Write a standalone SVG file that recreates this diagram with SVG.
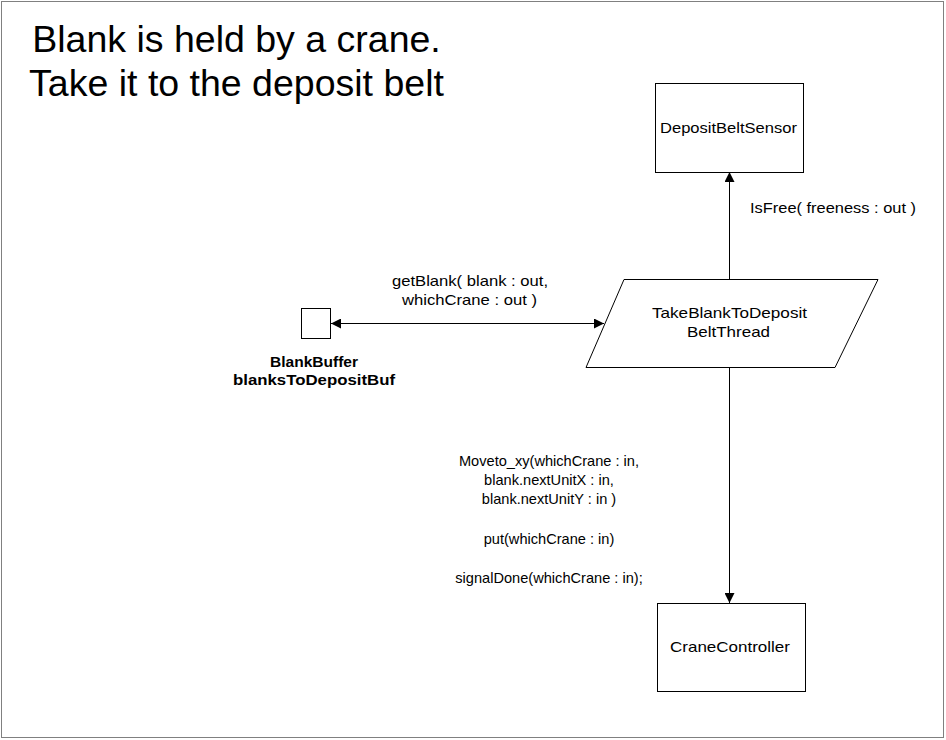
<svg xmlns="http://www.w3.org/2000/svg" width="946" height="740" viewBox="0 0 946 740">
<style>
text{font-family:"Liberation Sans",Arial,sans-serif;fill:#000}
.n{fill:#fff;stroke:#000;stroke-width:1}
.c{stroke:#000;stroke-width:1;fill:none}
.l{font-size:15px;text-anchor:middle}
.m{font-size:14.6px;text-anchor:middle}
.b{font-size:15px;text-anchor:middle;font-weight:bold}
</style>
<defs>
<marker id="a" viewBox="0 0 10 10" refX="10" refY="5" markerWidth="10" markerHeight="10" markerUnits="userSpaceOnUse" orient="auto-start-reverse">
<path d="M0,0 L10,5 L0,10 z" fill="#000"/>
</marker>
</defs>
<rect x="1.5" y="1.5" width="942" height="736" fill="#fff" stroke="#808080"/>
<text x="236.5" y="52" font-size="37.5" text-anchor="middle">Blank is held by a crane.</text>
<text x="236.5" y="96" font-size="37.5" text-anchor="middle">Take it to the deposit belt</text>
<g id="connectors">
<line class="c" x1="729.5" y1="279" x2="729.5" y2="172" marker-end="url(#a)"/>
<line class="c" x1="729.5" y1="367" x2="729.5" y2="603" marker-end="url(#a)"/>
<line class="c" x1="331" y1="323.5" x2="604" y2="323.5" marker-start="url(#a)" marker-end="url(#a)"/>
<text x="750" y="213" font-size="15" textLength="166" lengthAdjust="spacingAndGlyphs">IsFree( freeness : out )</text>
<text class="l" x="470" y="286" textLength="156" lengthAdjust="spacingAndGlyphs">getBlank( blank : out,</text>
<text class="l" x="469.5" y="305" textLength="135" lengthAdjust="spacingAndGlyphs">whichCrane : out )</text>
<text class="m" x="549" y="466">Moveto_xy(whichCrane : in,</text>
<text class="m" x="549" y="485">blank.nextUnitX : in,</text>
<text class="m" x="549" y="504">blank.nextUnitY : in )</text>
<text class="m" x="549" y="544">put(whichCrane : in)</text>
<text class="m" x="549" y="583">signalDone(whichCrane : in);</text>
</g>
<g id="DepositBeltSensor">
<rect class="n" x="655.5" y="83.5" width="148" height="89"/>
<text class="l" x="728.5" y="133" textLength="137" lengthAdjust="spacingAndGlyphs">DepositBeltSensor</text>
</g>
<g id="TakeBlankToDepositBeltThread">
<polygon class="n" points="624,279.5 878,279.5 835,367.5 586,367.5"/>
<text class="l" x="729.5" y="318" textLength="155" lengthAdjust="spacingAndGlyphs">TakeBlankToDeposit</text>
<text class="l" x="728.5" y="337" textLength="83" lengthAdjust="spacingAndGlyphs">BeltThread</text>
</g>
<g id="CraneController">
<rect class="n" x="657.5" y="603.5" width="148" height="88"/>
<text class="l" x="730" y="652" textLength="120" lengthAdjust="spacingAndGlyphs">CraneController</text>
</g>
<g id="BlankBuffer">
<rect class="n" x="301.5" y="308.5" width="29" height="30"/>
<text class="b" x="314" y="367" textLength="88" lengthAdjust="spacingAndGlyphs">BlankBuffer</text>
<text class="b" x="314" y="385" textLength="162" lengthAdjust="spacingAndGlyphs">blanksToDepositBuf</text>
</g>
</svg>
